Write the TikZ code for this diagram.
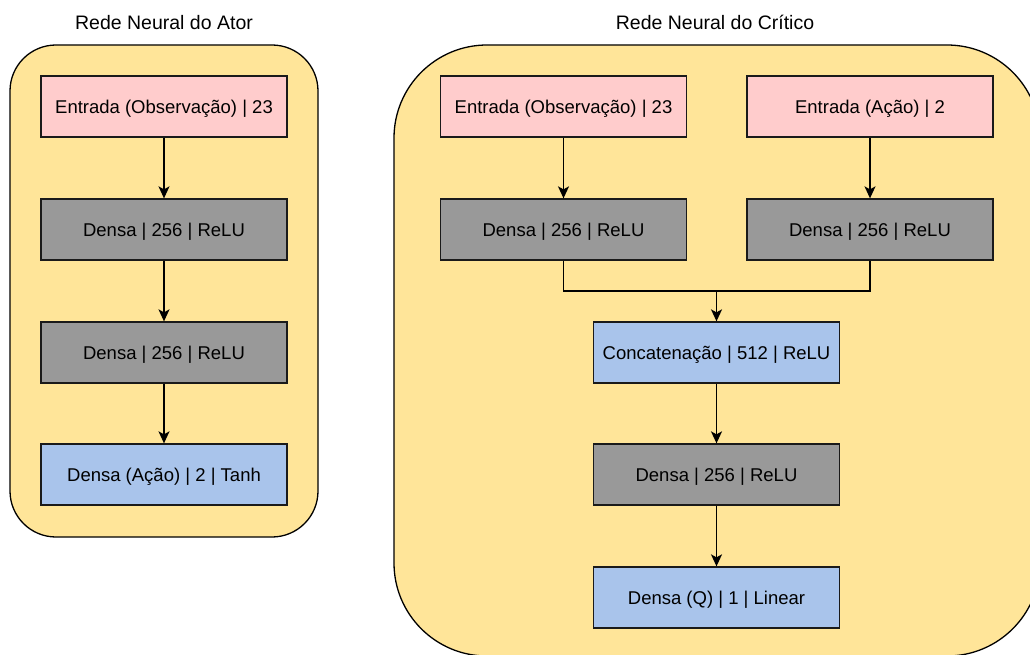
\documentclass[tikz,border=0pt]{standalone}
\usepackage{fontspec}
\setmainfont{Liberation Sans}
\usetikzlibrary{arrows.meta}
\definecolor{panelfill}{HTML}{FFE599}
\definecolor{inputfill}{HTML}{FFCCCC}
\definecolor{densefill}{HTML}{999999}
\definecolor{outfill}{HTML}{A9C4EB}
\definecolor{edgecol}{HTML}{1A1A1A}
\tikzset{
  panel/.style={draw=black, line width=1.3pt, fill=panelfill},
  layerbox/.style={draw=edgecol, line width=1.3pt, minimum width=246pt,
    minimum height=61pt, inner sep=0pt, text height=13.3pt, text depth=0pt,
    font=\fontsize{18.5}{21}\selectfont},
  inlayer/.style={layerbox, fill=inputfill},
  denselayer/.style={layerbox, fill=densefill},
  outlayer/.style={layerbox, fill=outfill},
  title/.style={font=\fontsize{19.5}{22}\selectfont, inner sep=0pt,
    text height=14pt, text depth=0pt},
  flow/.style={draw=black, line width=1.4pt,
    -{Stealth[length=12pt,width=11pt,inset=3pt]}},
  link/.style={draw=black, line width=1.4pt}
}
\begin{document}
\begin{tikzpicture}[x=1pt,y=-1pt]
\useasboundingbox (0,0) rectangle (1030,655);
\clip (0,0) rectangle (1030,655);

% panels
\path[panel, rounded corners=46pt] (10,45) rectangle (318,537);
\path[panel, rounded corners=93pt] (394,45) rectangle (1040,656);

\node[title] (tactor) at (164,23) {Rede Neural do Ator};
\node[title] (tcritic) at (715,23) {Rede Neural do Crítico};

% actor network
\node[inlayer]    (a1) at (164,106.5) {Entrada (Observação) | 23};
\node[denselayer] (a2) at (164,229.5) {Densa | 256 | ReLU};
\node[denselayer] (a3) at (164,352.5) {Densa | 256 | ReLU};
\node[outlayer]   (a4) at (164,474.5) {Densa (Ação) | 2 | Tanh};

\draw[flow] (a1) -- (a2);
\draw[flow] (a2) -- (a3);
\draw[flow] (a3) -- (a4);

% critic network
\node[inlayer]    (c1) at (563.5,106.5) {Entrada (Observação) | 23};
\node[inlayer]    (c2) at (870,106.5) {Entrada (Ação) | 2};
\node[denselayer] (c3) at (563.5,229.5) {Densa | 256 | ReLU};
\node[denselayer] (c4) at (870,229.5) {Densa | 256 | ReLU};
\node[outlayer]   (c5) at (716.5,352.5) {Concatenação | 512 | ReLU};
\node[denselayer] (c6) at (716.5,474.5) {Densa | 256 | ReLU};
\node[outlayer]   (c7) at (716.5,597.5) {Densa (Q) | 1 | Linear};

\draw[flow] (c1) -- (c3);
\draw[flow] (c2) -- (c4);

\coordinate (join) at (716.5,291);
\draw[link] (c3.south) |- (join);
\draw[link] (c4.south) |- (join);
\draw[flow] (join) -- (c5.north);

\draw[flow] (c5) -- (c6);
\draw[flow] (c6) -- (c7);
\end{tikzpicture}
\end{document}
